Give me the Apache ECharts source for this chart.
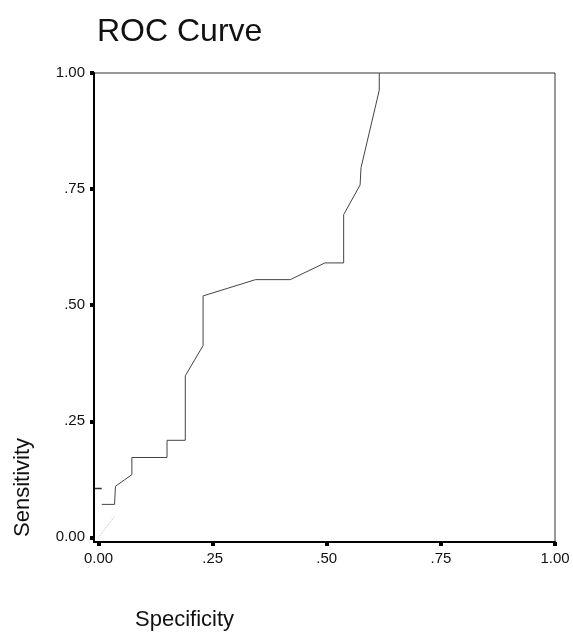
<!DOCTYPE html>
<html>
<head>
<meta charset="utf-8">
<script src="https://cdn.jsdelivr.net/npm/echarts@6/dist/echarts.min.js"></script>
<style>html,body{margin:0;padding:0;background:#fff}#c{width:573px;height:632px}</style>
</head>
<body>
<div id="c"></div>
<script>
// ROC curve points (x = 1 - specificity as plotted, y = sensitivity)
const specificity = [0.007, 0.035, 0.037, 0.073, 0.073, 0.15, 0.15, 0.19, 0.19, 0.229, 0.229, 0.344, 0.42, 0.496, 0.537, 0.537, 0.573, 0.575, 0.615, 0.615];
const sensitivity = [0.071, 0.071, 0.11, 0.135, 0.172, 0.172, 0.209, 0.209, 0.348, 0.413, 0.52, 0.555, 0.555, 0.591, 0.591, 0.695, 0.759, 0.796, 0.963, 1.0];
const refX = [0, 0.035];
const refY = [0, 0.045];
const markX = [-0.008, 0.007];
const markY = [0.105, 0.105];
const tickValues = [0, 0.25, 0.5, 0.75, 1];
const tickLabels = ['0.00', '.25', '.50', '.75', '1.00'];

const curve = specificity.map((v, i) => [v, sensitivity[i]]);
const ref = refX.map((v, i) => [v, refY[i]]);
const mark = markX.map((v, i) => [v, markY[i]]);
const fmt = v => { const i = tickValues.findIndex(t => Math.abs(t - v) < 1e-6); return i >= 0 ? tickLabels[i] : ''; };
const font = 'Liberation Sans, Arial, sans-serif';

const chart = echarts.init(document.getElementById('c'));
chart.setOption({
  animation: false,
  title: { text: 'ROC Curve', left: 92, top: 11, textStyle: { fontFamily: font, fontSize: 32, fontWeight: 'normal', color: '#111' } },
  grid: { left: 94, right: 18, top: 73, bottom: 90, show: true, borderColor: '#333', borderWidth: 1 },
  xAxis: {
    type: 'value', min: -0.01, max: 1,
    axisLine: { show: true, onZero: false, lineStyle: { color: '#000', width: 2 } },
    axisTick: { show: true, customValues: tickValues, length: 4, lineStyle: { color: '#000', width: 4 } },
    axisLabel: { customValues: tickValues, formatter: fmt, margin: 9, fontFamily: font, fontSize: 15, color: '#111' },
    splitLine: { show: false }
  },
  yAxis: {
    type: 'value', min: -0.01, max: 1,
    axisLine: { show: true, onZero: false, lineStyle: { color: '#000', width: 2 } },
    axisTick: { show: true, customValues: tickValues, length: 4, lineStyle: { color: '#000', width: 4 } },
    axisLabel: { customValues: tickValues, formatter: fmt, margin: 9, fontFamily: font, fontSize: 15, color: '#111' },
    splitLine: { show: false }
  },
  graphic: [
    { type: 'text', left: 135, top: 609, style: { text: 'Specificity', fontFamily: font, fontSize: 22, fill: '#111' } },
    { type: 'text', x: 12, y: 537, rotation: Math.PI / 2, style: { text: 'Sensitivity', fontFamily: font, fontSize: 22, fill: '#111', textAlign: 'left', textVerticalAlign: 'top' } }
  ],
  series: [
    { type: 'line', data: curve, showSymbol: false, lineStyle: { color: '#444', width: 1 }, z: 3 },
    { type: 'line', data: ref, showSymbol: false, lineStyle: { color: '#bbb', width: 1, type: 'dotted' } },
    { type: 'line', data: mark, showSymbol: false, lineStyle: { color: '#333', width: 1.5 } }
  ]
});
</script>
</body>
</html>
